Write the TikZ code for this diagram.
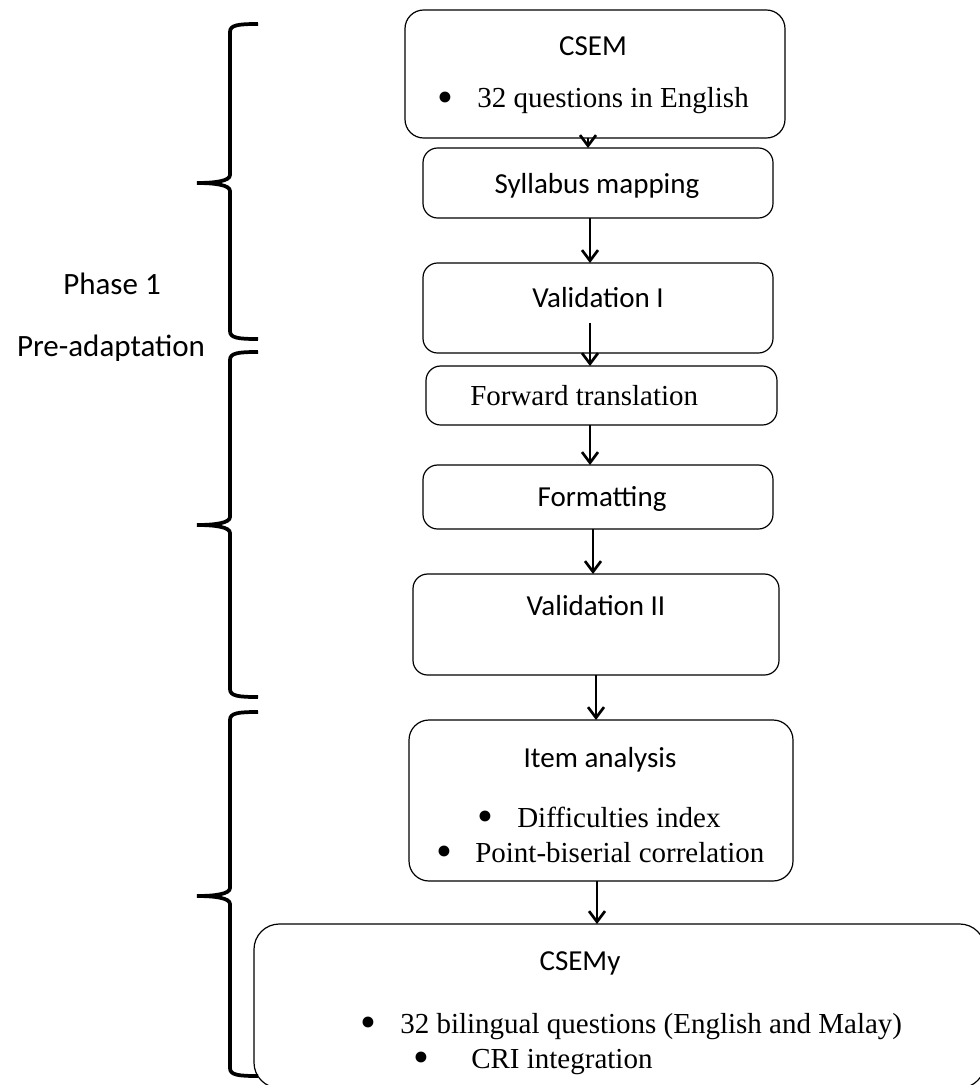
\documentclass[tikz,border=0pt]{standalone}
\usepackage{fontspec}
\setmainfont{Liberation Serif}
\newfontfamily\calibri{Carlito}
\usetikzlibrary{arrows.meta}
\begin{document}
\begin{tikzpicture}[x=0.75pt,y=-0.75pt,
  box/.style={draw, line width=0.9pt, rounded corners=11pt, inner sep=0pt, outer sep=0pt},
  sans/.style={font=\calibri\fontsize{21.75pt}{26pt}\selectfont, inner sep=0pt, anchor=base},
  bigsans/.style={font=\calibri\fontsize{23.25pt}{28pt}\selectfont, inner sep=0pt, anchor=base},
  serif/.style={font=\fontsize{21.75pt}{26pt}\selectfont, inner sep=0pt, anchor=base west},
  bul/.style={font=\fontsize{34pt}{34pt}\selectfont, inner sep=0pt, text height=14pt, text depth=0pt, anchor=base},
  arr/.style={-{Straight Barb[length=8pt,width=12pt,line width=2pt]}, line width=2pt},
  brace/.style={line width=2.8pt}]
\useasboundingbox (0,0) rectangle (980,1085);
\clip (0,0) rectangle (980,1085);

% boxes
\node[box, rounded corners=14pt, minimum width=285pt, minimum height=96pt] (csem) at (595,74) {};
\node[box, minimum width=262.5pt, minimum height=52.5pt] (syl) at (598,183) {};
\node[box, minimum width=262.5pt, minimum height=67.5pt] (val1) at (598,308) {};
\node[box, minimum width=263.25pt, minimum height=44.25pt] (fwd) at (601.5,395.5) {};
\node[box, minimum width=262.5pt, minimum height=48pt] (fmt) at (598,497) {};
\node[box, minimum width=274.5pt, minimum height=75.75pt] (val2) at (596,624.5) {};
\node[box, rounded corners=15pt, minimum width=288pt, minimum height=120.75pt] (item) at (601,800.5) {};
\node[box, rounded corners=19pt, minimum width=548.25pt, minimum height=123pt] (csemy) at (619.5,1006) {};

% texts
\node[sans] (tcsem) at (593,55) {CSEM};
\node[bul] (b1) at (445,112.4) {\textbullet};
\node[serif] (t1) at (477,107) {32 questions in English};
\node[sans] (tsyl) at (597,193) {Syllabus mapping};
\node[sans] (tval1) at (598,307) {Validation I};
\node[serif] (tfwd) at (470,405) {Forward translation};
\node[sans] (tfmt) at (602,506) {Formatting};
\node[sans] (tval2) at (596,615) {Validation II};
\node[sans] (titem) at (600,767) {Item analysis};
\node[bul] (b2) at (485,831.4) {\textbullet};
\node[serif] (t2) at (517,827) {Difficulties index};
\node[bul] (b3) at (444,866.4) {\textbullet};
\node[serif] (t3) at (475,862) {Point-biserial correlation};
\node[sans] (tcsemy) at (580,970) {CSEMy};
\node[bul] (b4) at (368,1037.4) {\textbullet};
\node[serif] (t4) at (400,1033) {32 bilingual questions (English and Malay)};
\node[bul] (b5) at (421,1072.4) {\textbullet};
\node[serif] (t5) at (471,1068) {CRI integration};

\node[bigsans] (ph) at (112,294) {Phase 1};
\node[bigsans] (pre) at (111,356) {Pre-adaptation};

% arrows
\draw[arr] ([xshift=-5.25pt]csem.south) -- ([xshift=-7.5pt]syl.north);
\draw[arr] ([xshift=-6pt]syl.south) -- ([xshift=-6pt]val1.north);
\draw[arr] ([xshift=-6pt,yshift=-11.25pt]val1.center) -- ([xshift=-8.625pt]fwd.north);
\draw[arr] ([xshift=-8.625pt]fwd.south) -- ([xshift=-6pt]fmt.north);
\draw[arr] ([xshift=-3.75pt]fmt.south) -- ([xshift=-2.25pt]val2.north);
\draw[arr] (val2.south) -- ([xshift=-3.75pt]item.north);
\draw[arr] ([xshift=-3pt]item.south) -- ([xshift=-16.875pt]csemy.north);

% braces
\foreach \t/\m/\b in {24/183/339, 352/525/697, 712/896/1076}{
  \draw[brace] (258,\t) .. controls (238,\t) and (230,\t+1) .. (230,\t+8)
    -- (230,\m-8) .. controls (230,\m-2) and (215,\m) .. (197,\m)
    .. controls (215,\m) and (230,\m+2) .. (230,\m+8)
    -- (230,\b-8) .. controls (230,\b-1) and (238,\b) .. (258,\b);
}
\end{tikzpicture}
\end{document}
